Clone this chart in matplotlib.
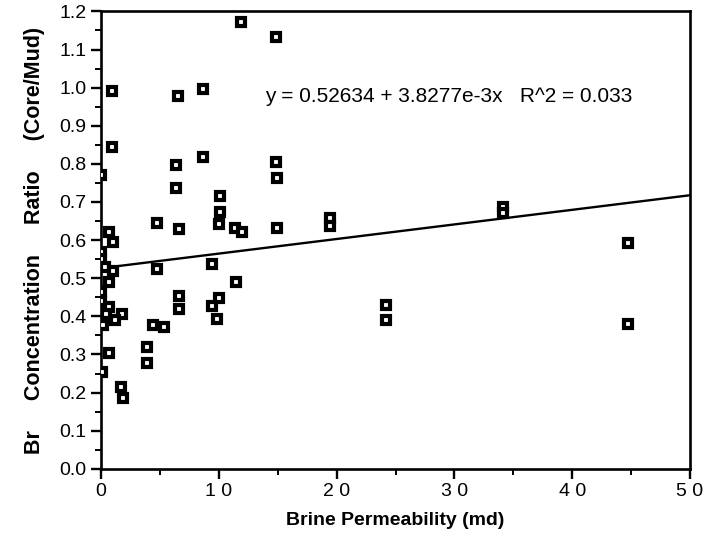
import matplotlib
matplotlib.use("Agg")
import matplotlib.pyplot as plt
import numpy as np
from matplotlib.ticker import MultipleLocator

plt.rcParams['font.family'] = ['Liberation Sans', 'DejaVu Sans']

# Brine permeability (md)
perm = [11.86, 14.86, 0.91, 6.51, 8.62, 0.91, 8.63, 6.37, 0.0, 6.37,
        14.86, 14.91, 10.1, 10.1, 4.73, 6.6, 9.97, 11.4, 11.97, 14.97,
        19.44, 19.44, 34.15, 34.15, 44.7, 44.76, 4.73, 9.45, 11.43, 6.65,
        6.65, 10.02, 9.45, 9.82, 4.39, 5.35, 3.88, 3.88, 24.17, 24.17,
        0.65, 0.98, 0.0, 0.0, 0.35, 0.98, 0.65, 0.0, 0.0, 0.65,
        0.4, 1.8, 1.2, 0.2, 0.65, 0.1, 1.65, 1.85]
# Br concentration ratio (core/mud)
ratio = [1.171, 1.132, 0.992, 0.977, 0.996, 0.845, 0.819, 0.797, 0.77, 0.736,
         0.806, 0.764, 0.715, 0.675, 0.646, 0.63, 0.642, 0.631, 0.620, 0.631,
         0.658, 0.636, 0.686, 0.672, 0.592, 0.380, 0.524, 0.537, 0.491, 0.454,
         0.420, 0.449, 0.426, 0.393, 0.377, 0.372, 0.320, 0.277, 0.430, 0.390,
         0.622, 0.596, 0.57, 0.55, 0.53, 0.52, 0.49, 0.465, 0.44, 0.425,
         0.405, 0.407, 0.39, 0.378, 0.303, 0.255, 0.214, 0.185]

intercept = 0.52634
slope = 3.8277e-3

fig = plt.figure(figsize=(7.07, 5.42), dpi=100)
ax = fig.add_axes([0.143, 0.135, 0.833, 0.844])

ax.plot(perm, ratio, linestyle='none', marker='s', markersize=5.8,
        markerfacecolor='white', markeredgecolor='black', markeredgewidth=3.0,
        clip_on=True, zorder=3)

xl = np.array([0, 50])
ax.plot(xl, intercept + slope * xl, color='black', linewidth=1.7, zorder=2)

ax.set_xlim(0, 50)
ax.set_ylim(0, 1.2)
ax.xaxis.set_minor_locator(MultipleLocator(5))
ax.yaxis.set_minor_locator(MultipleLocator(0.05))
ax.set_yticks(np.arange(0, 1.21, 0.1))
ax.set_yticklabels([f"{v:.1f}" for v in np.arange(0, 1.21, 0.1)])
ax.set_xticks(np.arange(0, 51, 10))
ax.set_xticklabels([' '.join(str(v)) for v in range(0, 51, 10)])

ax.tick_params(which='major', direction='out', length=7, width=1.7, labelsize=14)
ax.tick_params(which='minor', direction='out', length=4, width=1.4)
for s in ax.spines.values():
    s.set_linewidth(1.9)

ax.set_xlabel('Brine Permeability (md)', fontsize=14, fontweight='bold', labelpad=8)
ax.set_ylabel('Br     Concentration     Ratio     (Core/Mud)', fontsize=15.5,
              fontweight='bold', labelpad=10)

ax.text(13.9, 0.976, 'y = 0.52634 + 3.8277e-3x   R^2 = 0.033', fontsize=15,
        ha='left', va='center')

fig.savefig('out.png', dpi=100)
